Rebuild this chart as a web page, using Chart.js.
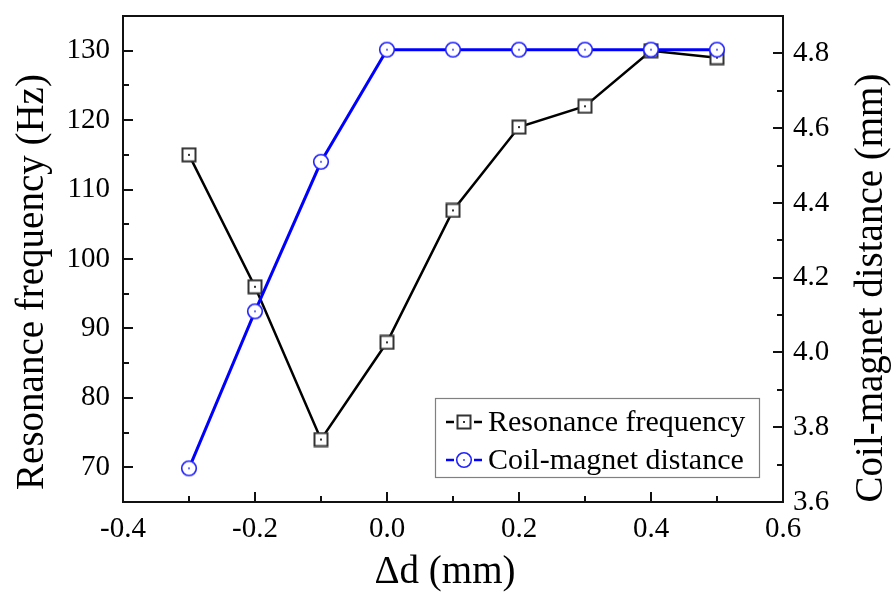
<!DOCTYPE html>
<html>
<head>
<meta charset="utf-8">
<script src="https://cdn.jsdelivr.net/npm/chart.js@4.4.1/dist/chart.umd.min.js"></script>
<style>
  html, body { margin: 0; padding: 0; background: #fff; }
  #wrap { width: 891px; height: 594px; position: relative; }
</style>
</head>
<body>
<div id="wrap"><canvas id="c" width="891" height="594"></canvas></div>
<script>
// ---- data ----
const deltaD = [-0.3, -0.2, -0.1, 0.0, 0.1, 0.2, 0.3, 0.4, 0.5];
const resonanceFrequency = [115, 96, 74, 88, 107, 119, 122, 130, 129];
const coilMagnetDistance = [3.69, 4.11, 4.51, 4.81, 4.81, 4.81, 4.81, 4.81, 4.81];
const seriesLabels = ['Resonance frequency', 'Coil-magnet distance'];
const xTitle = '\u0394d (mm)';
const yTitle = 'Resonance frequency (Hz)';
const y2Title = 'Coil-magnet distance (mm)';

const FONT = '"Liberation Serif", "DejaVu Serif", serif';

// ---- marker images ----
function squareImg(withDashes) {
  const w = withDashes ? 38 : 16, h = 16;
  const c = document.createElement('canvas'); c.width = w; c.height = h;
  const g = c.getContext('2d');
  const cx = w / 2, cy = h / 2;
  if (withDashes) {
    g.strokeStyle = '#000'; g.lineWidth = 2.5;
    g.beginPath(); g.moveTo(1, cy); g.lineTo(9, cy); g.moveTo(w - 9, cy); g.lineTo(w - 1, cy); g.stroke();
  }
  g.fillStyle = '#fff'; g.fillRect(cx - 6.5, cy - 6.5, 13, 13);
  g.strokeStyle = '#333'; g.lineWidth = 2;
  g.strokeRect(cx - 6.5, cy - 6.5, 13, 13);
  g.fillStyle = '#333'; g.fillRect(cx - 1, cy - 1, 2, 2);
  return c;
}
function circleImg(withDashes) {
  const w = withDashes ? 38 : 18, h = 18;
  const c = document.createElement('canvas'); c.width = w; c.height = h;
  const g = c.getContext('2d');
  const cx = w / 2, cy = h / 2;
  if (withDashes) {
    g.strokeStyle = '#0000ff'; g.lineWidth = 2.5;
    g.beginPath(); g.moveTo(1, cy); g.lineTo(9, cy); g.moveTo(w - 9, cy); g.lineTo(w - 1, cy); g.stroke();
  }
  g.beginPath(); g.arc(cx, cy, 7.3, 0, Math.PI * 2);
  g.fillStyle = '#fff'; g.fill();
  g.strokeStyle = '#2222ff'; g.lineWidth = 1.6; g.stroke();
  g.fillStyle = '#2222ff'; g.fillRect(cx - 0.8, cy - 0.8, 1.6, 1.6);
  return c;
}
const sqPt = squareImg(false), ciPt = circleImg(false);
const sqLeg = squareImg(true), ciLeg = circleImg(true);

// ---- plugin: frame, inward ticks, titles, legend ----
const decor = {
  id: 'decor',
  afterDraw(chart) {
    const ctx = chart.ctx, a = chart.chartArea;
    ctx.save();
    ctx.strokeStyle = '#111'; ctx.lineWidth = 2;
    const drawTicks = (scale, side) => {
      scale.ticks.forEach(t => {
        const p = Math.round(scale.getPixelForValue(t.value));
        const major = t.label !== '' && t.label !== undefined;
        const L = major ? 10 : 6;
        ctx.beginPath();
        if (side === 'bottom') { ctx.moveTo(p, a.bottom); ctx.lineTo(p, a.bottom - L); }
        if (side === 'left') { ctx.moveTo(a.left, p); ctx.lineTo(a.left + L, p); }
        if (side === 'right') { ctx.moveTo(a.right, p); ctx.lineTo(a.right - L, p); }
        ctx.stroke();
      });
    };
    drawTicks(chart.scales.x, 'bottom');
    drawTicks(chart.scales.y, 'left');
    drawTicks(chart.scales.y2, 'right');
    ctx.strokeStyle = '#111'; ctx.lineWidth = 2;
    ctx.strokeRect(a.left, a.top, a.right - a.left, a.bottom - a.top);
    ctx.fillStyle = '#000';
    ctx.font = '39px ' + FONT;
    ctx.textAlign = 'center'; ctx.textBaseline = 'middle';
    ctx.fillText(xTitle, 445, 573);
    ctx.save(); ctx.translate(33, 282); ctx.rotate(-Math.PI / 2); ctx.fillText(yTitle, 0, 0); ctx.restore();
    ctx.save(); ctx.translate(872, 288); ctx.rotate(-Math.PI / 2); ctx.fillText(y2Title, 0, 0); ctx.restore();
    const lx = 435, ly = 398, lw = 324, lh = 79;
    ctx.fillStyle = '#fff'; ctx.fillRect(lx, ly, lw, lh);
    ctx.strokeStyle = '#808080'; ctx.lineWidth = 1.2;
    ctx.strokeRect(lx + 0.5, ly + 0.5, lw, lh);
    const rows = [{img: sqLeg, y: 422}, {img: ciLeg, y: 460}];
    ctx.font = '30px ' + FONT; ctx.textAlign = 'left'; ctx.textBaseline = 'middle';
    rows.forEach((r, i) => {
      ctx.drawImage(r.img, 445, r.y - r.img.height / 2);
      ctx.fillStyle = '#000';
      ctx.fillText(seriesLabels[i], 488, r.y + 1);
    });
    ctx.restore();
  }
};

const tickFont = { family: FONT, size: 29 };

new Chart(document.getElementById('c'), {
  type: 'scatter',
  data: {
    datasets: [
      {
        label: seriesLabels[0],
        data: deltaD.map((x, i) => ({ x, y: resonanceFrequency[i] })),
        yAxisID: 'y',
        showLine: true,
        borderColor: '#000',
        borderWidth: 2.5,
        pointStyle: sqPt,
        pointRadius: 7,
        order: 1
      },
      {
        label: seriesLabels[1],
        data: deltaD.map((x, i) => ({ x, y: coilMagnetDistance[i] })),
        yAxisID: 'y2',
        showLine: true,
        borderColor: '#0000ff',
        borderWidth: 3,
        pointStyle: ciPt,
        pointRadius: 8,
        order: 0
      }
    ]
  },
  options: {
    responsive: false,
    animation: false,
    layout: { padding: { top: 0, left: 0, right: 0, bottom: 0 } },
    plugins: { legend: { display: false }, tooltip: { enabled: false } },
    scales: {
      x: {
        type: 'linear', min: -0.4, max: 0.6,
        grid: { display: false, drawTicks: false },
        border: { display: false },
        ticks: {
          stepSize: 0.1, autoSkip: false, maxRotation: 0, padding: 10,
          color: '#000', font: tickFont,
          callback: v => (Math.abs(Math.round(v * 10)) % 2 === 0) ? (Math.round(v * 10) / 10).toFixed(1) : ''
        },
        afterFit: s => { s.height = 92; }
      },
      y: {
        type: 'linear', position: 'left', min: 65, max: 135,
        grid: { display: false, drawTicks: false },
        border: { display: false },
        ticks: {
          stepSize: 5, autoSkip: false, padding: 13,
          color: '#000', font: tickFont,
          callback: v => (v % 10 === 0 && v >= 70 && v <= 130) ? String(v) : ''
        },
        afterFit: s => { s.width = 123; s.paddingTop = 16; }
      },
      y2: {
        type: 'linear', position: 'right', min: 3.6, max: 4.9,
        grid: { display: false, drawTicks: false },
        border: { display: false },
        ticks: {
          stepSize: 0.1, autoSkip: false, padding: 10,
          color: '#000', font: tickFont,
          callback: v => {
            const k = Math.round(v * 10);
            return (k % 2 === 0 && k <= 48) ? (k / 10).toFixed(1) : '';
          }
        },
        afterFit: s => { s.width = 108; s.paddingTop = 16; }
      }
    }
  },
  plugins: [decor]
});
</script>
</body>
</html>
